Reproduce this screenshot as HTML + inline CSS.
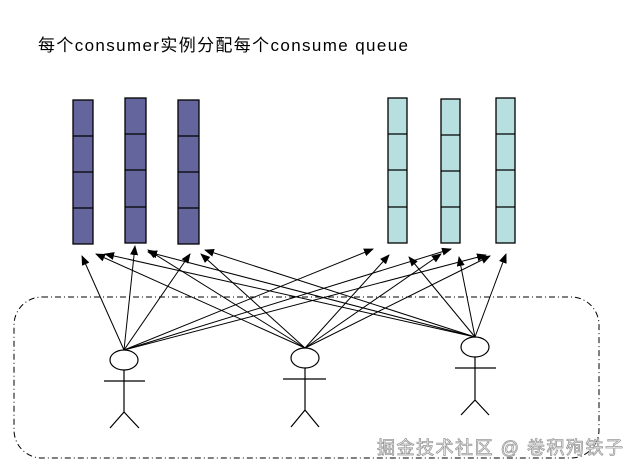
<!DOCTYPE html>
<html><head><meta charset="utf-8"><style>
html,body{margin:0;padding:0;background:#fff;}
svg{display:block;}
</style></head><body>
<svg width="638" height="473" xmlns="http://www.w3.org/2000/svg">
<defs>
<marker id="a" markerWidth="10" markerHeight="8" refX="9" refY="4" orient="auto" markerUnits="userSpaceOnUse">
<path d="M0,0 L10,4 L0,8 z" fill="#000"/>
</marker>
</defs>
<text x="38" y="51" font-family="Liberation Sans, Noto Sans CJK SC, sans-serif" font-size="17" textLength="370" fill="#000">每个consumer实例分配每个consume queue</text>
<g stroke="#000" stroke-width="1.3">
<g fill="#65659e">
<rect x="73" y="100" width="20" height="144"/>
<rect x="125" y="98" width="21" height="145"/>
<rect x="178" y="100" width="21" height="144"/>
</g>
<g fill="#b8dfdf">
<rect x="388" y="98" width="19" height="145"/>
<rect x="441" y="99" width="19" height="144"/>
<rect x="496" y="98" width="19" height="145"/>
</g>
<path d="M73,136H93M73,172H93M73,208H93 M125,134H146M125,170H146M125,207H146 M178,136H199M178,172H199M178,208H199 M388,134H407M388,170H407M388,207H407 M441,135H460M441,171H460M441,207H460 M496,134H515M496,170H515M496,207H515" fill="none"/>
</g>
<rect x="14" y="297" width="585" height="161" rx="28" ry="28" fill="none" stroke="#000" stroke-width="1" stroke-dasharray="6,3,1,3"/>
<g stroke="#000" stroke-width="1" fill="none" marker-end="url(#a)">
<line x1="124" y1="350" x2="82" y2="256"/>
<line x1="124" y1="350" x2="135" y2="246"/>
<line x1="124" y1="350" x2="190" y2="254"/>
<line x1="124" y1="350" x2="373" y2="249"/>
<line x1="124" y1="350" x2="451" y2="249"/>
<line x1="124" y1="350" x2="486" y2="255"/>
<line x1="305" y1="348" x2="96" y2="254"/>
<line x1="305" y1="348" x2="148" y2="250"/>
<line x1="305" y1="348" x2="201" y2="254"/>
<line x1="305" y1="348" x2="389" y2="255"/>
<line x1="305" y1="348" x2="441" y2="254"/>
<line x1="305" y1="348" x2="490" y2="256"/>
<line x1="475" y1="337" x2="105" y2="254"/>
<line x1="475" y1="337" x2="148" y2="252"/>
<line x1="475" y1="337" x2="205" y2="250"/>
<line x1="475" y1="337" x2="409" y2="257"/>
<line x1="475" y1="337" x2="459" y2="257"/>
<line x1="475" y1="337" x2="506" y2="254"/>
</g>
<g stroke="#000" stroke-width="1.2" fill="#fff">
<ellipse cx="124" cy="360" rx="14" ry="10"/>
<ellipse cx="305" cy="358" rx="14" ry="10"/>
<ellipse cx="475" cy="347" rx="14" ry="10"/>
</g>
<g stroke="#000" stroke-width="1.2" fill="none">
<path d="M104,381H145 M124,370V412 L110,428 M124,412 L139,428"/>
<path d="M283,379H326 M305,368V410 L291,427 M305,410 L319,427"/>
<path d="M455,368H496 M475,357V400 L461,415 M475,400 L489,415"/>
</g>
<text x="377" y="454" font-family="Liberation Sans, Noto Sans CJK SC, sans-serif" font-size="18" fill="#fff" stroke="#999" stroke-width="0.8" textLength="246">掘金技术社区 @ 卷积殉铁子</text>
</svg>
</body></html>
